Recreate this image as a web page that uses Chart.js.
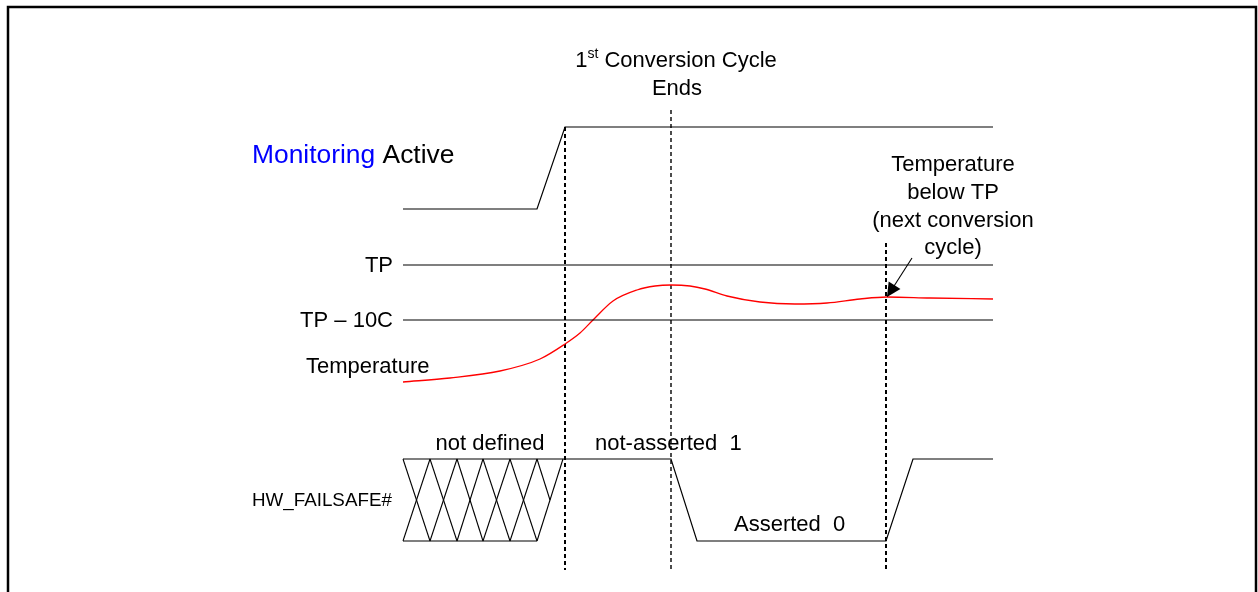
<!DOCTYPE html>
<html>
<head>
<meta charset="utf-8">
<script src="https://cdn.jsdelivr.net/npm/chart.js@4.4.0/dist/chart.umd.min.js"></script>
<style>
  html, body { margin: 0; padding: 0; background: #ffffff; }
  #wrap { width: 1258px; height: 592px; }
</style>
</head>
<body>
<div id="wrap"><canvas id="c" width="1258" height="592"></canvas></div>
<script>
// ---- Diagram data (picture coordinates) ----
const frameX = [8, 8, 1256, 1256];
const frameY = [592, 7, 7, 592];

const monitorX = [403, 537, 565, 993];
const monitorY = [209, 209, 127, 127];

const thresholdNames = ['TP', 'TP – 10C'];
const thresholdY = [265, 320];
const thresholdX = [403, 993];

const tempX = [403, 450, 500, 540, 565, 580, 593, 613, 637, 655, 671, 690, 705, 727, 760, 795, 827, 860, 887, 930, 993];
const tempY = [382, 378, 371, 359, 344, 333, 320, 301, 290, 286, 285, 286, 289, 296, 302, 304, 303, 299, 297, 298, 299];

const failX = [403, 563, 671, 697, 886, 913, 993];
const failY = [459, 459, 459, 541, 541, 459, 459];

const hatchX = [403, 430, 457, 483, 510, 537];
const hatchTop = 459;
const hatchBottom = 541;
const hatchEdgeTopX = 563;

const cycleX = [565, 671, 886];
const cycleTop = [127, 110, 243];
const cycleBottom = 570;

const arrowX = [912, 887];
const arrowY = [258, 297];

// ---- build datasets ----
const pts = (xs, ys) => xs.map((x, i) => ({ x: x, y: ys[i] }));
const datasets = [];
function line(data, color, width, dash) {
  datasets.push({ data: data, borderColor: color, borderWidth: width, borderDash: dash || [],
    showLine: true, pointRadius: 0, fill: false, tension: 0 });
}
line(pts(frameX, frameY), '#000', 2.5);
line(pts(monitorX, monitorY), '#000', 1.2);
thresholdY.forEach(y => line(pts(thresholdX, [y, y]), '#000', 1.2));
datasets.push({ data: pts(tempX, tempY), borderColor: '#ff0000', borderWidth: 1.3, showLine: true,
  pointRadius: 0, fill: false, cubicInterpolationMode: 'monotone' });
line(pts(failX, failY), '#000', 1.2);
// hatch (undefined state)
line(pts([hatchX[0], hatchX[hatchX.length - 1]], [hatchBottom, hatchBottom]), '#000', 1.2);
for (let i = 0; i < hatchX.length - 1; i++) {
  line(pts([hatchX[i], hatchX[i + 1]], [hatchTop, hatchBottom]), '#000', 1.1);
  line(pts([hatchX[i + 1], hatchX[i]], [hatchTop, hatchBottom]), '#000', 1.1);
}
const lastX = hatchX[hatchX.length - 1];
line(pts([hatchEdgeTopX, lastX], [hatchTop, hatchBottom]), '#000', 1.1);
line(pts([lastX, (lastX + hatchEdgeTopX) / 2], [hatchTop, (hatchTop + hatchBottom) / 2]), '#000', 1.1);
// cycle markers
cycleX.forEach((x, i) => line(pts([x, x], [cycleTop[i], cycleBottom]), '#000', i === 1 ? 1.4 : 2, [4, 3]));
// arrow shaft
line(pts(arrowX, arrowY), '#000', 1.1);

// ---- labels ----
const FONT = '"Liberation Sans", Arial, sans-serif';
const labels = [
  { t: 'TP', x: 393, y: 266, a: 'right' },
  { t: 'TP – 10C', x: 393, y: 321, a: 'right' },
  { t: 'Temperature', x: 306, y: 367, a: 'left' },
  { t: 'HW_FAILSAFE#', x: 252, y: 501, a: 'left', s: 18.8 },
  { t: 'not defined', x: 490, y: 444, a: 'center' },
  { t: 'not-asserted  1', x: 595, y: 444, a: 'left' },
  { t: 'Asserted  0', x: 734, y: 525, a: 'left' },
  { t: 'Ends', x: 677, y: 89, a: 'center' },
  { t: 'Temperature', x: 953, y: 165, a: 'center' },
  { t: 'below TP', x: 953, y: 193, a: 'center' },
  { t: '(next conversion', x: 953, y: 221, a: 'center' },
  { t: 'cycle)', x: 953, y: 248, a: 'center' }
];

const textPlugin = {
  id: 'texts',
  afterDatasetsDraw(chart) {
    const ctx = chart.ctx, sx = chart.scales.x, sy = chart.scales.y;
    ctx.save();
    ctx.fillStyle = '#000';
    ctx.textBaseline = 'middle';
    labels.forEach(l => {
      ctx.font = (l.s || 22) + 'px ' + FONT;
      ctx.textAlign = l.a;
      ctx.fillText(l.t, sx.getPixelForValue(l.x), sy.getPixelForValue(l.y));
    });
    // Monitoring Active
    ctx.textAlign = 'left';
    ctx.font = '26.4px ' + FONT;
    let mx = sx.getPixelForValue(252), my = sy.getPixelForValue(156);
    ctx.fillStyle = '#0000ff';
    ctx.fillText('Monitoring', mx, my);
    mx += ctx.measureText('Monitoring ').width;
    ctx.fillStyle = '#000';
    ctx.fillText('Active', mx, my);
    // 1st Conversion Cycle (superscript)
    ctx.font = '22px ' + FONT;
    const w1 = ctx.measureText('1').width, w3 = ctx.measureText(' Conversion Cycle').width;
    ctx.font = '14px ' + FONT;
    const w2 = ctx.measureText('st').width;
    let cx = sx.getPixelForValue(676) - (w1 + w2 + w3) / 2, cy = sy.getPixelForValue(61);
    ctx.font = '22px ' + FONT;
    ctx.fillText('1', cx, cy);
    ctx.font = '14px ' + FONT;
    ctx.fillText('st', cx + w1, cy - 7);
    ctx.font = '22px ' + FONT;
    ctx.fillText(' Conversion Cycle', cx + w1 + w2, cy);
    // arrow head
    const x0 = sx.getPixelForValue(arrowX[0]), y0 = sy.getPixelForValue(arrowY[0]);
    const x1 = sx.getPixelForValue(arrowX[1]), y1 = sy.getPixelForValue(arrowY[1]);
    const ang = Math.atan2(y1 - y0, x1 - x0), L = 14, W = 7;
    ctx.beginPath();
    ctx.moveTo(x1, y1);
    ctx.lineTo(x1 - L * Math.cos(ang) + W * Math.sin(ang), y1 - L * Math.sin(ang) - W * Math.cos(ang));
    ctx.lineTo(x1 - L * Math.cos(ang) - W * Math.sin(ang), y1 - L * Math.sin(ang) + W * Math.cos(ang));
    ctx.closePath();
    ctx.fill();
    ctx.restore();
  }
};

new Chart(document.getElementById('c'), {
  type: 'scatter',
  data: { datasets: datasets },
  options: {
    responsive: false,
    animation: false,
    devicePixelRatio: 1,
    layout: { padding: 0 },
    clip: false,
    plugins: { legend: { display: false }, tooltip: { enabled: false } },
    scales: {
      x: { type: 'linear', min: 0, max: 1258, display: false },
      y: { type: 'linear', min: 0, max: 592, reverse: true, display: false }
    }
  },
  plugins: [textPlugin]
});
</script>
</body>
</html>
